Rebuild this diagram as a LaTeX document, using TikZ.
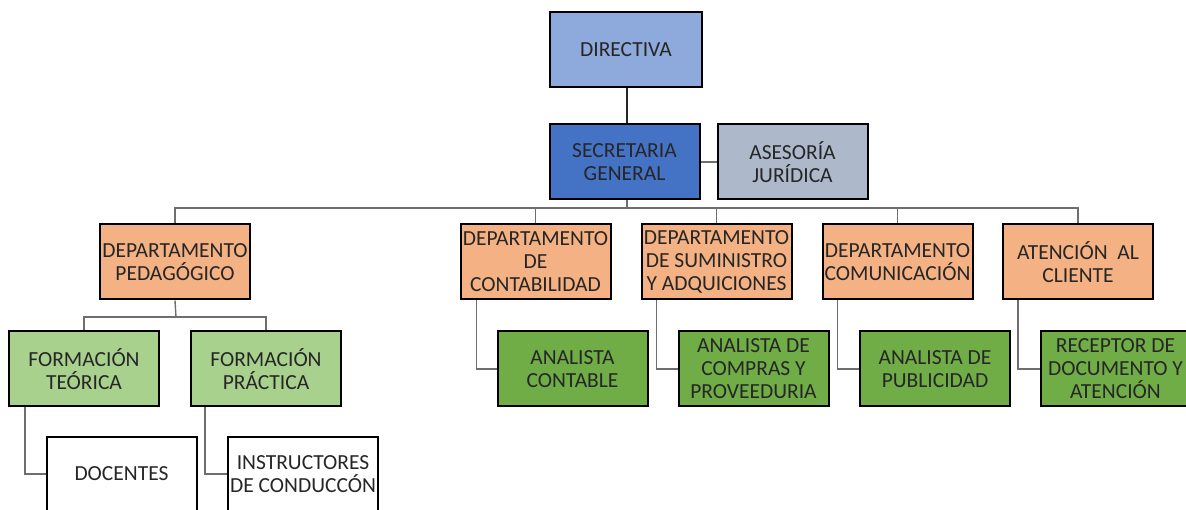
\documentclass[tikz,border=0pt]{standalone}
\usepackage{fontspec}
\setmainfont{Carlito}
\usetikzlibrary{backgrounds}
\definecolor{cDir}{HTML}{8EA9DB}
\definecolor{cSec}{HTML}{4472C4}
\definecolor{cAse}{HTML}{ADB9CA}
\definecolor{cDep}{HTML}{F4B183}
\definecolor{cForm}{HTML}{A9D18E}
\definecolor{cAna}{HTML}{70AD47}
\definecolor{cTxt}{HTML}{262626}
\definecolor{cLine}{HTML}{6E6E6E}
\begin{document}
\begin{tikzpicture}[x=1pt,y=-1pt,
  box/.style={draw=black,line width=2pt,minimum width=150pt,minimum height=75pt,inner sep=0pt,align=center,
    text=cTxt,font=\fontsize{21.5}{23}\selectfont},
  conn/.style={draw=cLine,line width=1.4pt},
  mainconn/.style={draw=black!85,line width=1.8pt}]
\useasboundingbox (0,0) rectangle (1186,510);
\begin{scope}
\clip (0,0) rectangle (1186,510);
% level 0-1
\node[box,fill=cDir,minimum width=152pt] (dir) at (626,49.5) {DIRECTIVA};
\node[box,fill=cSec] (sec) at (624.5,162) {SECRETARIA\\GENERAL};
\node[box,fill=cAse] (ase) at (792.5,162) {ASESORÍA\\JURÍDICA};
% departments
\node[box,fill=cDep] (ped) at (175,262) {DEPARTAMENTO\\PEDAGÓGICO};
\node[box,fill=cDep] (con) at (535.5,262) {DEPARTAMENTO\\DE\\CONTABILIDAD};
\node[box,fill=cDep] (sum) at (716.5,262) {DEPARTAMENTO\\DE SUMINISTRO\\Y ADQUICIONES};
\node[box,fill=cDep] (com) at (897.5,262) {DEPARTAMENTO\\COMUNICACIÓN};
\node[box,fill=cDep] (ate) at (1078,262) {ATENCIÓN\ \ AL\\CLIENTE};
% level 3
\node[box,fill=cForm] (teo) at (84,369) {FORMACIÓN\\TEÓRICA};
\node[box,fill=cForm] (pra) at (266,369) {FORMACIÓN\\PRÁCTICA};
\node[box,fill=cAna] (anc) at (572.5,369) {ANALISTA\\CONTABLE};
\node[box,fill=cAna] (anp) at (753.5,369) {ANALISTA DE\\COMPRAS Y\\PROVEEDURIA};
\node[box,fill=cAna] (anu) at (935,369) {ANALISTA DE\\PUBLICIDAD};
\node[box,fill=cAna] (rec) at (1115.5,369) {RECEPTOR DE\\DOCUMENTO Y\\ATENCIÓN};
% level 4
\node[box,fill=white] (doc) at (121.5,474) {DOCENTES};
\node[box,fill=white] (ins) at (303,474) {INSTRUCTORES\\DE CONDUCCÓN};
% connectors
\coordinate (bus) at (627,208);
\coordinate (sub) at (176,317);
\begin{scope}[on background layer]
\draw[mainconn] ([xshift=1pt]dir.south) -- ([xshift=2.5pt]sec.north);
\draw[conn] (sec.east) -- (ase.west);
\draw[conn] ([xshift=2.5pt]sec.south) -- (bus);
\draw[conn] (ped.north) |- (bus) -| (ate.north);
\draw[conn] (bus) -| (con.north);
\draw[conn] (bus) -| (sum.north);
\draw[conn] (bus) -| (com.north);
\draw[conn] (ped.south) -- (sub);
\draw[conn] (teo.north) |- (sub) -| (pra.north);
\draw[conn] ([xshift=17pt]teo.south west) |- (doc.west);
\draw[conn] ([xshift=15pt]pra.south west) |- (ins.west);
\draw[conn] ([xshift=17pt]con.south west) |- (anc.west);
\draw[conn] ([xshift=16pt]sum.south west) |- (anp.west);
\draw[conn] ([xshift=16pt]com.south west) |- (anu.west);
\draw[conn] ([xshift=16pt]ate.south west) |- (rec.west);
\end{scope}
\end{scope}
\end{tikzpicture}
\end{document}
